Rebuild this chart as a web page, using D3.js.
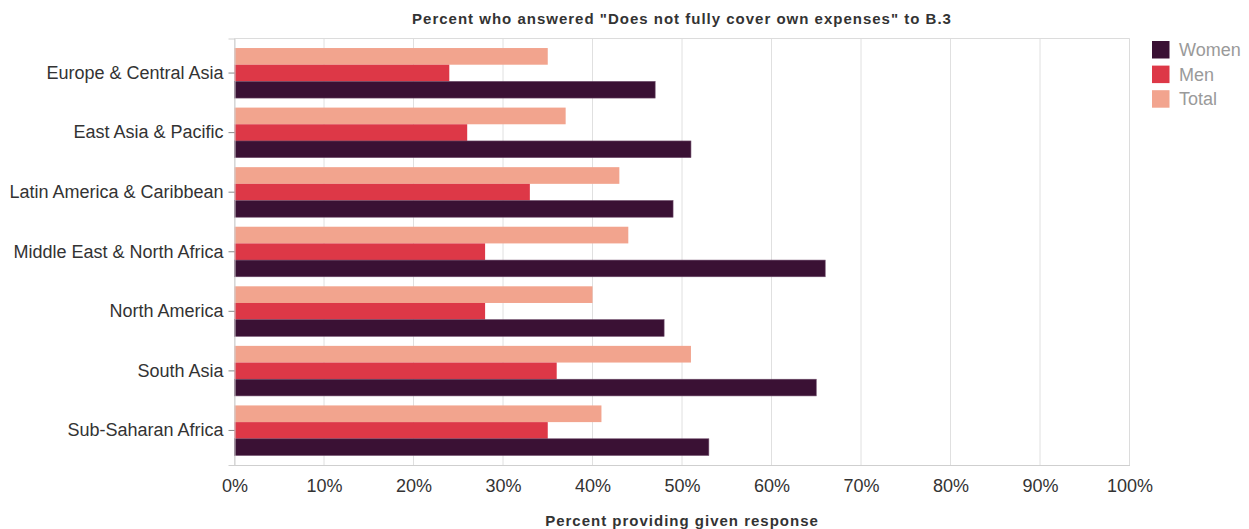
<!DOCTYPE html>
<html>
<head>
<meta charset="utf-8">
<script src="https://cdn.jsdelivr.net/npm/d3@7/dist/d3.min.js"></script>
<style>
  body { margin: 0; background: #fff; }
  svg { display: block; font-family: "Liberation Sans", Arial, sans-serif; }
</style>
</head>
<body>
<div id="chart"></div>
<script>
// Data (percent)
var regions = ["Europe & Central Asia", "East Asia & Pacific", "Latin America & Caribbean",
	"Middle East & North Africa", "North America", "South Asia", "Sub-Saharan Africa"];
var seriesNames = ["Total", "Men", "Women"];      // top to bottom inside each group
var legendNames = ["Women", "Men", "Total"];
var totalValues = [35, 37, 43, 44, 40, 51, 41];
var menValues   = [24, 26, 33, 28, 28, 36, 35];
var womenValues = [47, 51, 49, 66, 48, 65, 53];
var xTicks = [0, 10, 20, 30, 40, 50, 60, 70, 80, 90, 100];

var W = 1249, H = 529;
var margin = {top: 38.5, right: 120, bottom: 64, left: 234.5};
var innerW = 1129.5 - margin.left, innerH = 465 - margin.top;

var color = d3.scaleOrdinal()
	.domain(["Women", "Men", "Total"])
	.range(["#3a1134", "#dd3847", "#f2a48e"]);

var valuesBySeries = {Total: totalValues, Men: menValues, Women: womenValues};
var rows = regions.map(function(r, i){
	return {region: r, bars: seriesNames.map(function(s){ return {series: s, value: valuesBySeries[s][i]}; })};
});

var svg = d3.select("#chart").append("svg")
	.attr("width", W)
	.attr("height", H);

var g = svg.append("g").attr("transform", "translate(" + margin.left + "," + margin.top + ")");

var x = d3.scaleLinear().domain([0, 100]).range([0, innerW]);
var y = d3.scaleBand().domain(regions).range([0, innerH]).padding(0.16);
var ySub = d3.scaleBand().domain(seriesNames).range([0, y.bandwidth()]);

// grid
g.selectAll("line.grid")
	.data(xTicks)
	.enter().append("line")
	.attr("class", "grid")
	.attr("x1", function(d){ return x(d); })
	.attr("x2", function(d){ return x(d); })
	.attr("y1", 0)
	.attr("y2", innerH)
	.attr("stroke", "#e0e0e0")
	.attr("stroke-width", 1);

// panel border top / right
g.append("line").attr("x1", 0).attr("x2", innerW).attr("y1", 0).attr("y2", 0)
	.attr("stroke", "#dcdcdc");
g.append("line").attr("x1", innerW).attr("x2", innerW).attr("y1", 0).attr("y2", innerH)
	.attr("stroke", "#dcdcdc");

// bars
var groups = g.selectAll("g.region")
	.data(rows)
	.enter().append("g")
	.attr("class", "region")
	.attr("transform", function(d){ return "translate(0," + y(d.region) + ")"; });

groups.selectAll("rect")
	.data(function(d){ return d.bars; })
	.enter().append("rect")
	.attr("x", 0)
	.attr("y", function(d){ return ySub(d.series); })
	.attr("width", function(d){ return x(d.value); })
	.attr("height", ySub.bandwidth())
	.attr("fill", function(d){ return color(d.series); })
	.attr("stroke", function(d){ return d.series == "Women" ? "#6d4a69" : "none"; })
	.attr("stroke-width", 0.6);

// axes
var xAxis = g.append("g")
	.attr("transform", "translate(0," + innerH + ")")
	.call(d3.axisBottom(x).tickValues(xTicks).tickSize(0).tickPadding(14)
		.tickFormat(function(d){ return d + "%"; }));
xAxis.select(".domain").attr("stroke", "#cfcfcf");
xAxis.selectAll("text").attr("font-size", "18px").attr("fill", "#333")
	.attr("font-family", "Liberation Sans, Arial, sans-serif");

var yAxis = g.append("g")
	.call(d3.axisLeft(y).tickSize(6).tickPadding(5));
yAxis.select(".domain").attr("stroke", "#cfcfcf");
yAxis.selectAll(".tick line").attr("stroke", "#888");
yAxis.selectAll("text").attr("font-size", "18px").attr("fill", "#333")
	.attr("font-family", "Liberation Sans, Arial, sans-serif");

// titles
svg.append("text")
	.attr("x", margin.left + innerW / 2)
	.attr("y", 24)
	.attr("text-anchor", "middle")
	.attr("font-size", "15px")
	.attr("font-weight", "bold")
	.attr("letter-spacing", "1px")
	.attr("fill", "#333")
	.text('Percent who answered "Does not fully cover own expenses" to B.3');

svg.append("text")
	.attr("x", margin.left + innerW / 2)
	.attr("y", 526)
	.attr("text-anchor", "middle")
	.attr("font-size", "15px")
	.attr("font-weight", "bold")
	.attr("letter-spacing", "1px")
	.attr("fill", "#333")
	.text("Percent providing given response");

// legend
var legend = svg.append("g").attr("transform", "translate(1152,41)");
legend.selectAll("rect")
	.data(legendNames)
	.enter().append("rect")
	.attr("x", 0)
	.attr("y", function(d, i){ return i * 24.6; })
	.attr("width", 17.5)
	.attr("height", 17.5)
	.attr("fill", function(d){ return color(d); });
legend.selectAll("text")
	.data(legendNames)
	.enter().append("text")
	.attr("x", 27)
	.attr("y", function(d, i){ return i * 24.6 + 15; })
	.attr("font-size", "18px")
	.attr("fill", "#9a9a9a")
	.text(function(d){ return d; });
</script>
</body>
</html>
